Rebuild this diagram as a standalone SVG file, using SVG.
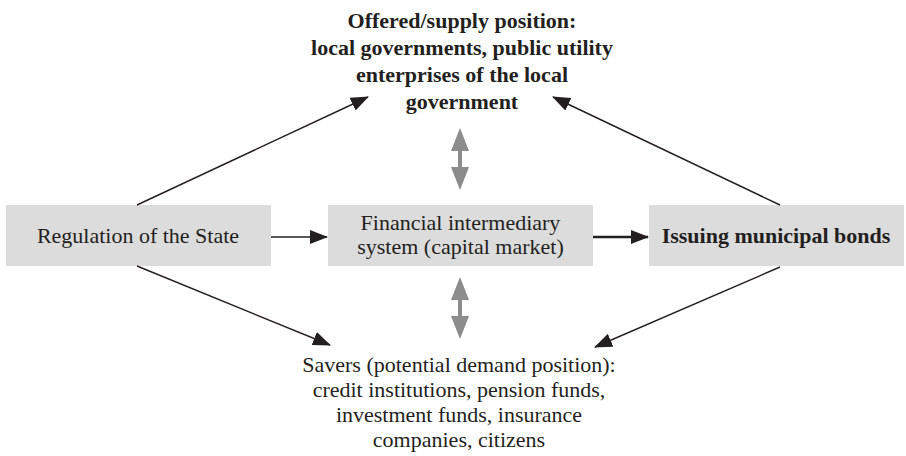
<svg xmlns="http://www.w3.org/2000/svg" width="906" height="456" viewBox="0 0 906 456">
<defs>
<style>
.box{fill:#dcdcdc;}
.t{font-family:"Liberation Serif","Times New Roman",serif;font-size:22px;fill:#231f20;text-anchor:middle;}
.b{font-weight:bold;}
.ln{stroke:#231f20;stroke-width:1.4;fill:none;}
.thick{stroke-width:2.6;}
.dbl{fill:#8c8c8c;}
</style>
<marker id="ah" markerUnits="userSpaceOnUse" markerWidth="18" markerHeight="14" viewBox="0 0 18 14" refX="17" refY="7" orient="auto">
<path d="M0,0 L18,7 L0,14 Z" fill="#231f20"/>
</marker>
</defs>
<g id="supply">
<text class="t b" x="462" y="28">Offered/supply position:</text>
<text class="t b" x="462" y="55">local governments, public utility</text>
<text class="t b" x="462" y="82">enterprises of the local</text>
<text class="t b" x="462" y="109">government</text>
</g>
<g id="regulation">
<rect class="box" x="6" y="205" width="265" height="61"/>
<text class="t" x="138" y="243">Regulation of the State</text>
</g>
<g id="intermediary">
<rect class="box" x="328" y="205" width="265" height="61"/>
<text class="t" x="460.5" y="230">Financial intermediary</text>
<text class="t" x="460.5" y="254">system (capital market)</text>
</g>
<g id="issuing">
<rect class="box" x="649" y="205" width="255" height="61"/>
<text class="t b" x="776" y="243">Issuing municipal bonds</text>
</g>
<g id="savers">
<text class="t" x="459" y="372">Savers (potential demand position):</text>
<text class="t" x="459" y="397">credit institutions, pension funds,</text>
<text class="t" x="459" y="422">investment funds, insurance</text>
<text class="t" x="459" y="447">companies, citizens</text>
</g>
<g id="connectors">
<line class="ln" x1="137" y1="205" x2="368" y2="97" marker-end="url(#ah)"/>
<line class="ln" x1="780" y1="205" x2="553" y2="97" marker-end="url(#ah)"/>
<line class="ln" x1="137" y1="266" x2="330" y2="345" marker-end="url(#ah)"/>
<line class="ln" x1="780" y1="267" x2="595" y2="347" marker-end="url(#ah)"/>
<line class="ln" x1="271" y1="237" x2="327" y2="237" marker-end="url(#ah)"/>
<line class="ln thick" x1="593" y1="237" x2="648" y2="237" marker-end="url(#ah)"/>
<path class="dbl" d="M460,128 L469,151 L462,151 L462,167 L469,167 L460,190 L451,167 L458,167 L458,151 L451,151 Z"/>
<path class="dbl" d="M460,277 L469,300 L462,300 L462,316 L469,316 L460,339 L451,316 L458,316 L458,300 L451,300 Z"/>
</g>
</svg>
